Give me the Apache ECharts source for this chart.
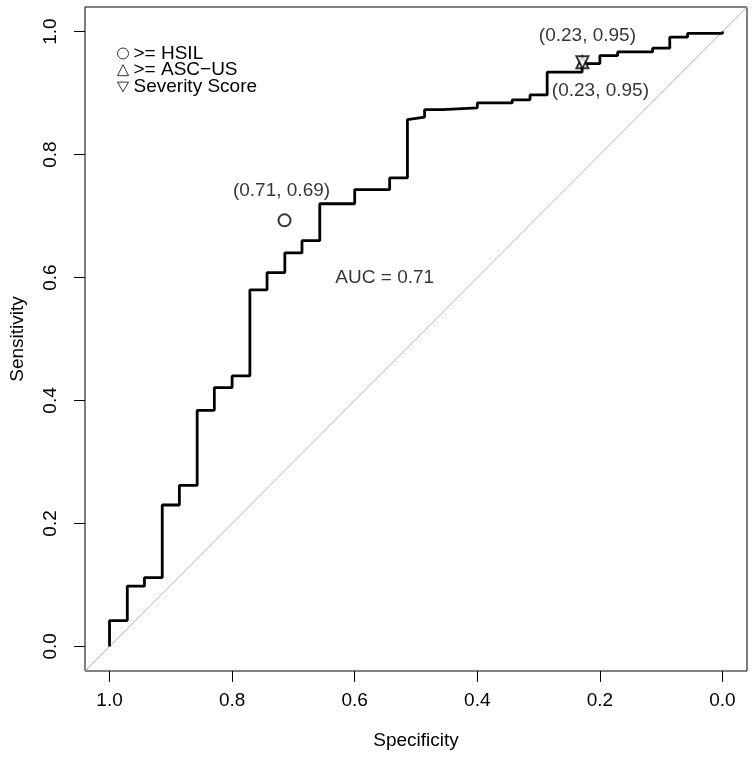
<!DOCTYPE html>
<html>
<head>
<meta charset="utf-8">
<title>ROC curve</title>
<script src="https://cdn.jsdelivr.net/npm/echarts@6/dist/echarts.min.js"></script>
<style>
  html, body { margin: 0; padding: 0; background: #fff; }
  #myChart { width: 755px; height: 759px; }
</style>
</head>
<body>
<div id="myChart"></div>
<script>
// ROC curve corners (specificity, sensitivity)
var rocSpecificity = [1.000, 1.000, 0.971, 0.971, 0.943, 0.943, 0.914, 0.914, 0.886, 0.886,
  0.857, 0.857, 0.829, 0.829, 0.800, 0.800, 0.771, 0.771, 0.743, 0.743,
  0.714, 0.714, 0.686, 0.686, 0.657, 0.657, 0.600, 0.600, 0.543, 0.543,
  0.514, 0.514, 0.486, 0.486, 0.457, 0.457, 0.400, 0.400, 0.343, 0.343,
  0.314, 0.314, 0.286, 0.286, 0.229, 0.229, 0.200, 0.200, 0.171, 0.171,
  0.114, 0.114, 0.086, 0.086, 0.057, 0.057, 0.000, 0.000];
var rocSensitivity = [0.000, 0.042, 0.042, 0.098, 0.098, 0.112, 0.112, 0.230, 0.230, 0.262,
  0.262, 0.384, 0.384, 0.421, 0.421, 0.440, 0.440, 0.580, 0.580, 0.608,
  0.608, 0.640, 0.640, 0.660, 0.660, 0.720, 0.720, 0.743, 0.743, 0.762,
  0.762, 0.857, 0.861, 0.873, 0.873, 0.876, 0.876, 0.884, 0.884, 0.889,
  0.889, 0.897, 0.897, 0.934, 0.934, 0.948, 0.948, 0.961, 0.961, 0.967,
  0.967, 0.973, 0.973, 0.991, 0.991, 0.997, 0.997, 1.000];

// single test points
var hsilPoint = [0.7145, 0.693];
var ascusPoint = [0.2285, 0.950];
var severityPoint = [0.2285, 0.950];
var hsilLabel = "(0.71, 0.69)";
var ascusLabel = "(0.23, 0.95)";
var severityLabel = "(0.23, 0.95)";

var aucText = "AUC = 0.71";
var aucPos = [0.551, 0.600];

var tickValues = [0, 0.2, 0.4, 0.6, 0.8, 1.0];
var axisRange = [-0.04, 1.04];

var font = "'Liberation Sans', Arial, Helvetica, sans-serif";
var downTriangle = "path://M0,0L10,0L5,8.66Z";
var hollow = { color: "#fff", borderColor: "#000", borderWidth: 1 };

var rocData = rocSpecificity.map(function (s, i) { return [s, rocSensitivity[i]]; });

var myChart = echarts.init(document.getElementById("myChart"));
var option = {
  animation: false,
  textStyle: { fontFamily: font },
  grid: {
    left: 83, right: 8, top: 7, bottom: 88,
    show: true, borderColor: "#000", borderWidth: 1, backgroundColor: "transparent"
  },
  legend: {
    orient: "vertical",
    left: 112,
    top: 39,
    itemGap: -2.3,
    itemWidth: 11,
    itemHeight: 11,
    textStyle: { fontSize: 19, color: "#000", fontFamily: font },
    data: [
      { name: ">= HSIL", icon: "circle", itemStyle: hollow },
      { name: ">= ASC\u2212US", icon: "triangle", itemStyle: hollow },
      { name: "Severity Score", icon: downTriangle, itemStyle: hollow }
    ]
  },
  xAxis: {
    type: "value",
    inverse: true,
    min: axisRange[0],
    max: axisRange[1],
    name: "Specificity",
    nameLocation: "middle",
    nameGap: 60,
    nameTextStyle: { fontSize: 19, color: "#000" },
    axisLine: { show: false, onZero: false },
    axisTick: { show: true, inside: false, length: 11, customValues: tickValues, lineStyle: { color: "#000" } },
    axisLabel: {
      customValues: tickValues, margin: 20, fontSize: 19, color: "#000",
      formatter: function (v) { return v.toFixed(1); }
    },
    splitLine: { show: false }
  },
  yAxis: {
    type: "value",
    min: axisRange[0],
    max: axisRange[1],
    name: "Sensitivity",
    nameLocation: "middle",
    nameGap: 58,
    nameTextStyle: { fontSize: 19, color: "#000" },
    axisLine: { show: false, onZero: false },
    axisTick: { show: true, inside: false, length: 11, customValues: tickValues, lineStyle: { color: "#000" } },
    axisLabel: {
      customValues: tickValues, margin: 25, fontSize: 19, color: "#000", rotate: 90,
      formatter: function (v) { return v.toFixed(1); }
    },
    splitLine: { show: false }
  },
  series: [
    {
      // chance diagonal
      type: "line",
      data: [[axisRange[1], axisRange[0]], [axisRange[0], axisRange[1]]],
      showSymbol: false,
      silent: true,
      lineStyle: { color: "#b4b4b4", width: 1 },
      z: 1
    },
    {
      name: "roc",
      type: "line",
      data: rocData,
      showSymbol: false,
      lineStyle: { color: "#000", width: 2.8 },
      z: 2
    },
    {
      name: ">= HSIL",
      type: "scatter",
      data: [hsilPoint],
      symbol: "emptyCircle",
      symbolSize: 12,
      itemStyle: { color: "#000", borderWidth: 1 },
      label: { show: true, position: "top", distance: 13, fontSize: 19, color: "#000", formatter: hsilLabel, offset: [-3, 0] },
      z: 3
    },
    {
      name: ">= ASC\u2212US",
      type: "scatter",
      data: [ascusPoint],
      symbol: "emptyTriangle",
      symbolSize: 12,
      itemStyle: { color: "#000", borderWidth: 1 },
      label: { show: true, position: "top", distance: 10, fontSize: 19, color: "#000", formatter: ascusLabel, offset: [5, 0] },
      z: 3
    },
    {
      name: "Severity Score",
      type: "scatter",
      data: [severityPoint],
      symbol: "emptyTriangle",
      symbolRotate: 180,
      symbolSize: 12,
      itemStyle: { color: "#000", borderWidth: 1 },
      label: { show: true, position: "bottom", distance: 12, fontSize: 19, color: "#000", formatter: severityLabel, offset: [18, 0] },
      z: 3
    },
    {
      type: "scatter",
      data: [aucPos],
      symbolSize: 0,
      silent: true,
      label: { show: true, position: "inside", fontSize: 19, color: "#000", formatter: aucText }
    }
  ]
};
myChart.setOption(option);
window.onresize = myChart.resize;
</script>
</body>
</html>
